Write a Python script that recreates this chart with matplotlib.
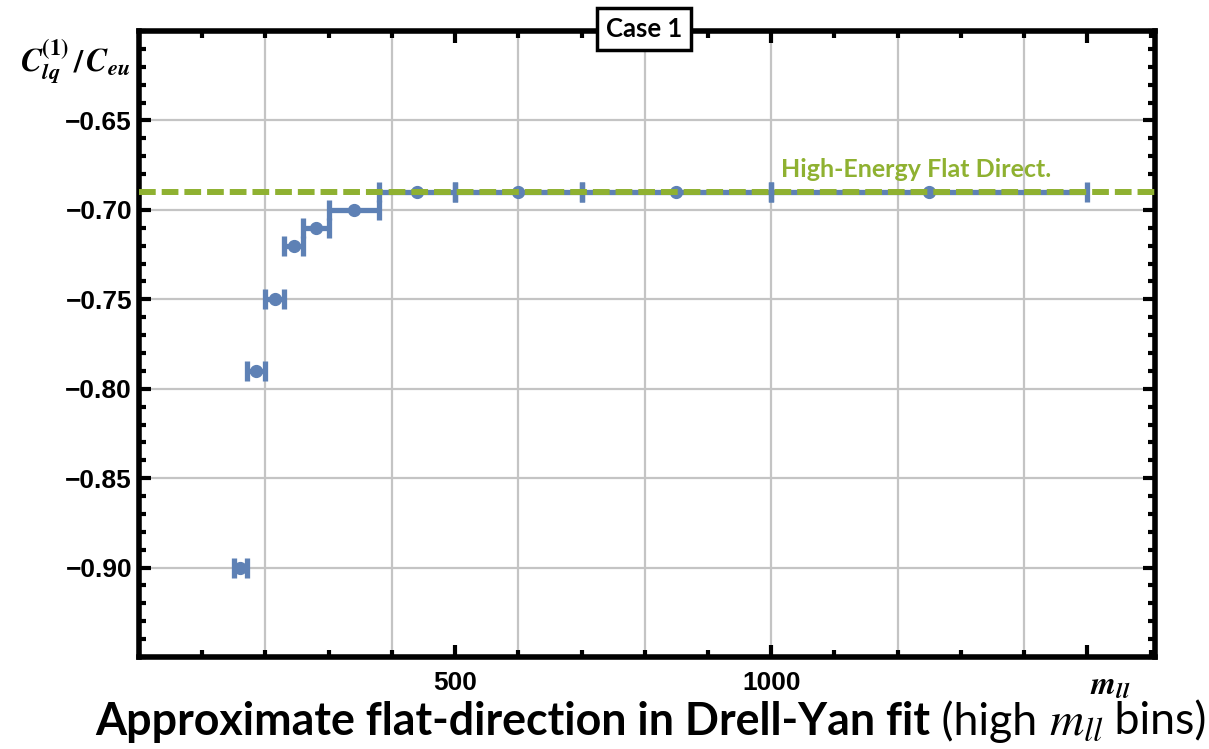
import numpy as np
import matplotlib
matplotlib.use('Agg')
import matplotlib.pyplot as plt
from matplotlib.ticker import MultipleLocator

# bins in m_ll (GeV) and the flat-direction ratio per bin
bin_lo = [150, 170, 200, 230, 260, 300, 380, 500, 700, 1000]
bin_hi = [170, 200, 230, 260, 300, 380, 500, 700, 1000, 1500]
m_center = [160, 185, 215, 245, 280, 340, 440, 600, 850, 1250]
ratio = [-0.90, -0.79, -0.75, -0.72, -0.71, -0.70, -0.69, -0.69, -0.69, -0.69]
flat_dir = -0.69

blue = '#5E81B5'
green = '#8FB131'

plt.rcParams['mathtext.fontset'] = 'stix'

fig = plt.figure(figsize=(12.09, 7.49), dpi=100)
ax = fig.add_axes([0.115, 0.1228, 0.8403, 0.8358])

x = np.array(m_center)
xerr = [x - np.array(bin_lo), np.array(bin_hi) - x]
ax.errorbar(x, ratio, xerr=xerr, fmt='o', color=blue, ms=8.5, elinewidth=3.8,
            capsize=7.4, capthick=3.8, zorder=3)
ax.axhline(flat_dir, color=green, lw=4.3, dashes=(2.8, 1.0), zorder=4)
ax.text(1230, -0.6775, 'High-Energy Flat Direct.', color=green, fontsize=18,
        fontfamily='Lato', fontweight='bold', ha='center', va='center')

ax.set_xlim(0, 1607)
ax.set_ylim(-0.95, -0.60)

ax.set_xticks([500, 1000, 1500])
ax.set_xticklabels(['500', '1000', ''])
ax.xaxis.set_minor_locator(MultipleLocator(100))
ax.set_yticks([-0.90, -0.85, -0.80, -0.75, -0.70, -0.65])
ax.set_yticklabels(['\u22120.90', '\u22120.85', '\u22120.80', '\u22120.75', '\u22120.70', '\u22120.65'])
ax.yaxis.set_minor_locator(MultipleLocator(0.01))
for lab in ax.get_xticklabels() + ax.get_yticklabels():
    lab.set_fontfamily('Liberation Sans')
    lab.set_fontweight('bold')
    lab.set_fontsize(19)

ax.tick_params(which='both', direction='in', top=True, right=True, width=3, color='black')
ax.tick_params(which='major', length=8.5, pad=5)
ax.tick_params(which='minor', length=5)
ax.tick_params(axis='x', pad=10)
for s in ax.spines.values():
    s.set_linewidth(4)

# grid every 200 in x and 0.05 in y
for gx in range(200, 1600, 200):
    ax.axvline(gx, color='#C4C4C4', lw=1.6, zorder=0)
for gy in [-0.90, -0.85, -0.80, -0.75, -0.70, -0.65]:
    ax.axhline(gy, color='#C4C4C4', lw=1.6, zorder=0)

fig.text(20 / 1209, 1 - 62 / 749,
         r'$\mathbfit{C}_{\mathbfit{lq}}^{\mathbf{(1)}}\,\mathbf{/}\,\mathbfit{C}_{\mathbfit{eu}}$',
         fontsize=23, ha='left', va='center')
fig.text(1110 / 1209, 1 - 686 / 749, r'$\mathbfit{m}_{\mathbfit{ll}}$', fontsize=23,
         ha='center', va='center')

# case box
fig.text(644 / 1209, 1 - 29 / 749, 'Case 1', fontsize=18.5, fontfamily='Lato', fontweight='bold',
         ha='center', va='center',
         bbox=dict(boxstyle='square,pad=0.35', fc='white', ec='black', lw=2.5))

# bottom title, mixed bold/regular
fig.canvas.draw()
r = fig.canvas.get_renderer()
ty = 1 - 722 / 749
fs = 32.2
t1 = fig.text(95 / 1209, ty, 'Approximate flat-direction in Drell-Yan fit', fontsize=fs,
              fontfamily='Lato', fontweight='bold', ha='left', va='center')
bb = t1.get_window_extent(r)
t2 = fig.text(bb.x1 / fig.bbox.width, ty, ' (high ', fontsize=fs, fontfamily='Lato',
              ha='left', va='center')
bb = t2.get_window_extent(r)
t3 = fig.text(bb.x1 / fig.bbox.width, ty, r'$m_{ll}$', fontsize=fs + 2, ha='left', va='center')
bb = t3.get_window_extent(r)
fig.text(bb.x1 / fig.bbox.width, ty, ' bins)', fontsize=fs, fontfamily='Lato',
         ha='left', va='center')

fig.savefig('out.png', dpi=100)
